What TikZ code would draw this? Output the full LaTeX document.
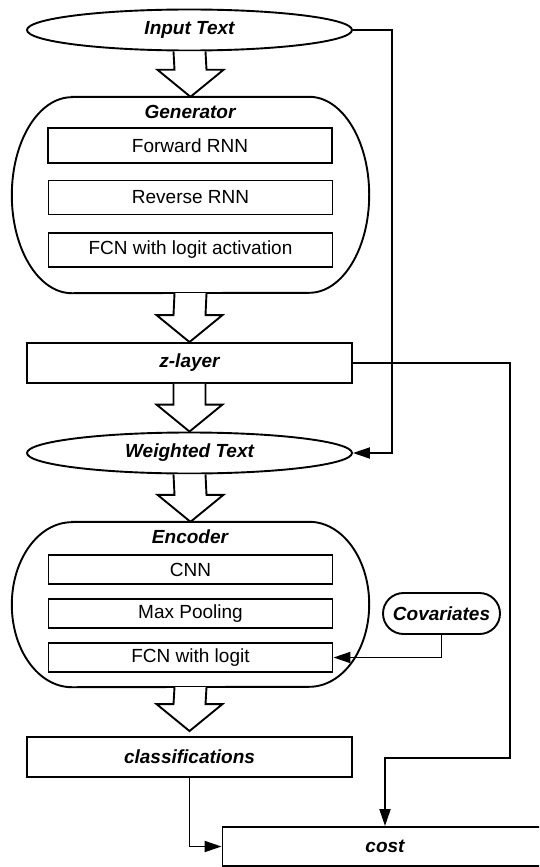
\documentclass[tikz,border=0pt]{standalone}
\usepackage{fontspec}
\setmainfont{Liberation Sans}
\usetikzlibrary{arrows.meta,calc,shapes.geometric,shapes.misc}
\tikzset{
  base/.style={draw, line width=1.9pt, inner sep=0pt, align=center, font=\fontsize{19}{23}\selectfont},
  title/.style={font=\fontsize{19}{23}\selectfont\bfseries\itshape, inner sep=0pt},
  oval/.style={base, ellipse, minimum width=325, minimum height=41, font=\fontsize{19}{23}\selectfont\bfseries\itshape},
  bigbox/.style={base, rectangle, minimum width=325, minimum height=40, font=\fontsize{19}{23}\selectfont\bfseries\itshape},
  inbox/.style={base, rectangle, minimum width=284},
  pill/.style={base, rounded rectangle, minimum width=117, minimum height=41, font=\fontsize{19}{23}\selectfont\bfseries\itshape},
  container/.style={inner sep=0pt, minimum width=357},
  conn/.style={line width=1.9pt, -{Triangle[length=17,width=11]}},
  barrowstyle/.style={draw, fill=white, line width=1.9pt, line join=miter},
}
\newcommand\blockarrow[3]{% from node, to node, gap at tip
  \draw[barrowstyle] ($(#1.south)+(-16,0)$) -- ($(#2.north)+(-16,-27-#3)$) -- ($(#2.north)+(-33,-27-#3)$)
    -- ($(#2.north)+(0,-#3)$) -- ($(#2.north)+(33,-27-#3)$) -- ($(#2.north)+(16,-27-#3)$)
    -- ($(#1.south)+(16,0)$);}
\newcommand\capsule[3]{% node, x radius, y radius
  \draw[line width=1.9pt] ($(#1.north west)+(#2,0)$) -- ($(#1.north east)+(-#2,0)$)
    arc[start angle=90, end angle=-90, x radius=#2pt, y radius=#3pt]
    -- ($(#1.south west)+(#2,0)$)
    arc[start angle=270, end angle=90, x radius=#2pt, y radius=#3pt] -- cycle;}
\begin{document}
\begin{tikzpicture}[x=1pt,y=-1pt]
\useasboundingbox (0,0) rectangle (539,867);
\clip (0,0) rectangle (539,867);
% containers
\node[container, minimum height=196] (gen) at (190.5,195) {};
\node[container, minimum height=165] (enc) at (190.5,604.5) {};
\capsule{gen}{60}{98}
\capsule{enc}{60}{82.5}
\node[title] (gent) at (190,112) {Generator};
\node[title] (enct) at (190,537) {Encoder};
% main nodes
\node[oval] (in) at (189.5,30) {Input Text};
\node[inbox, minimum height=35] (frnn) at (190,145.5) {Forward RNN};
\node[inbox, minimum height=34] (rrnn) at (190.5,197.5) {Reverse RNN};
\node[inbox, minimum height=34] (fcn) at (190.5,250) {FCN with logit activation};
\node[bigbox] (z) at (189.5,363) {z-layer};
\node[oval] (wt) at (189.5,453) {Weighted Text};
\node[inbox, minimum height=29] (cnn) at (190.5,569.5) {CNN};
\node[inbox, minimum height=29] (mp) at (190.5,613.5) {Max Pooling};
\node[inbox, minimum height=29] (fl) at (190.5,657.5) {FCN with logit};
\node[pill] (cov) at (441.5,613.5) {Covariates};
\node[bigbox] (cls) at (189.5,757) {classifications};
\node[bigbox, minimum height=39] (cost) at (385,846.5) {cost};
% block arrows
\blockarrow{in}{gen}{0}
\blockarrow{gen}{z}{0}
\blockarrow{z}{wt}{0}
\blockarrow{wt}{enc}{0}
\blockarrow{enc}{cls}{5}
% connectors
\coordinate (zr) at (510,758);
\draw[conn] (in.east) -- ++(39,0) |- (wt.east);
\draw[conn] (z.east) -| (zr) -- (zr -| cost.north) -- (cost.north);
\draw[conn] (cls.south) |- (cost.west);
\draw[conn] (cov.south) |- (fl.east);
\end{tikzpicture}
\end{document}
